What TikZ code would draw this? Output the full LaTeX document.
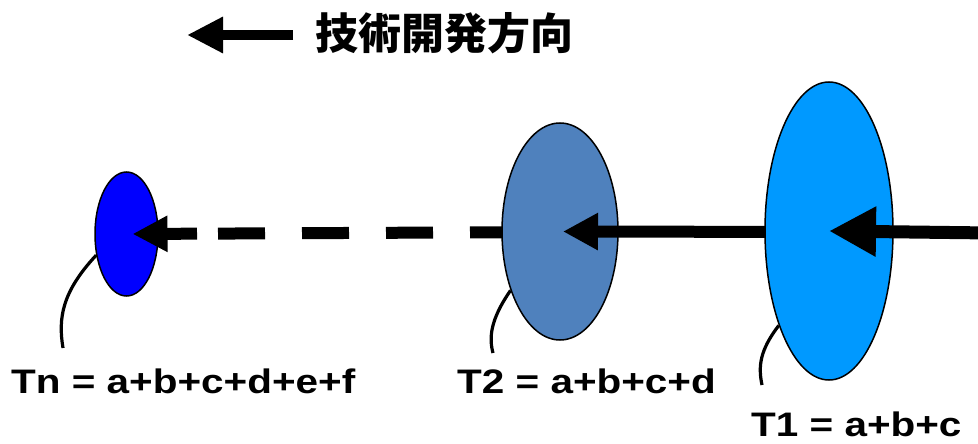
\documentclass[tikz,border=0pt]{standalone}
\usepackage{fontspec}
\usepackage{graphicx}
\setmainfont{Liberation Sans}
\newfontfamily\cjk{Noto Sans CJK JP}
\usetikzlibrary{shapes.geometric,arrows.meta}
\definecolor{cTn}{RGB}{0,0,255}
\definecolor{cTtwo}{RGB}{79,129,189}
\definecolor{cTone}{RGB}{0,153,255}
\tikzset{
  disc/.style={ellipse, draw=black, line width=1.5pt, inner sep=0pt},
  fatarrow/.style={line width=#1, -{Triangle[length=35pt,width=35pt]}},
  callout/.style={line width=3.2pt, line cap=butt},
  lab/.style={anchor=base west, inner sep=0pt, font=\fontsize{34}{36}\selectfont\bfseries}
}
\newcommand{\wide}[1]{\scalebox{1.19}[1]{#1}}
\begin{document}
\begin{tikzpicture}[x=1pt,y=-1pt]
\useasboundingbox (0,0) rectangle (978,444);
% top legend
\coordinate (ls) at (293,35);
\coordinate (le) at (187,35);
\draw[line width=10pt, -{Triangle[length=36pt,width=34pt]}] (ls) -- (le);
\node[inner sep=0pt, font=\cjk\bfseries\fontsize{43}{44}\selectfont] (title) at (444,33) {技術開発方向};
% Tn
\node[disc, fill=cTn, minimum width=63pt, minimum height=124pt] (tn) at (126.5,234) {};
\coordinate (c2) at (560,232);
\draw[line width=12pt, dash pattern=on 47pt off 37pt on 47pt off 37pt on 47pt off 37pt on 47pt off 37pt on 47pt off 21pt on 200pt off 1pt, dash phase=41pt, shorten >=6pt,
      -{Triangle[length=35pt,width=34pt]}] (c2) -- (tn.center);
% T2
\node[disc, fill=cTtwo, minimum width=116pt, minimum height=217pt] (t2) at (560,231.5) {};
\coordinate (c1) at (829,232);
\draw[fatarrow=12pt, shorten >=3pt] (c1) -- (t2.center);
% T1
\node[disc, fill=cTone, minimum width=128pt, minimum height=298pt] (t1) at (829,231) {};
\coordinate (in) at (990,233);
\draw[line width=13pt, -{Triangle[length=47pt,width=47pt]}] (in) -- (t1.center);
% labels
\node[lab] (ln) at (11,393) {\wide{Tn = a+b+c+d+e+f}};
\node[lab] (l2) at (457,393) {\wide{T2 = a+b+c+d}};
\node[lab] (l1) at (751,436) {\wide{T1 = a+b+c}};
% callouts
\coordinate (en) at (63,348);
\coordinate (e2) at (493,353);
\coordinate (e1) at (762,385);
\draw[callout] (tn.-145) .. controls (62,292) and (58,318) .. (en);
\draw[callout] (t2.-130) .. controls (490,320) and (489,338) .. (e2);
\draw[callout] (t1.-118) .. controls (760,350) and (758,366) .. (e1);
\end{tikzpicture}
\end{document}
